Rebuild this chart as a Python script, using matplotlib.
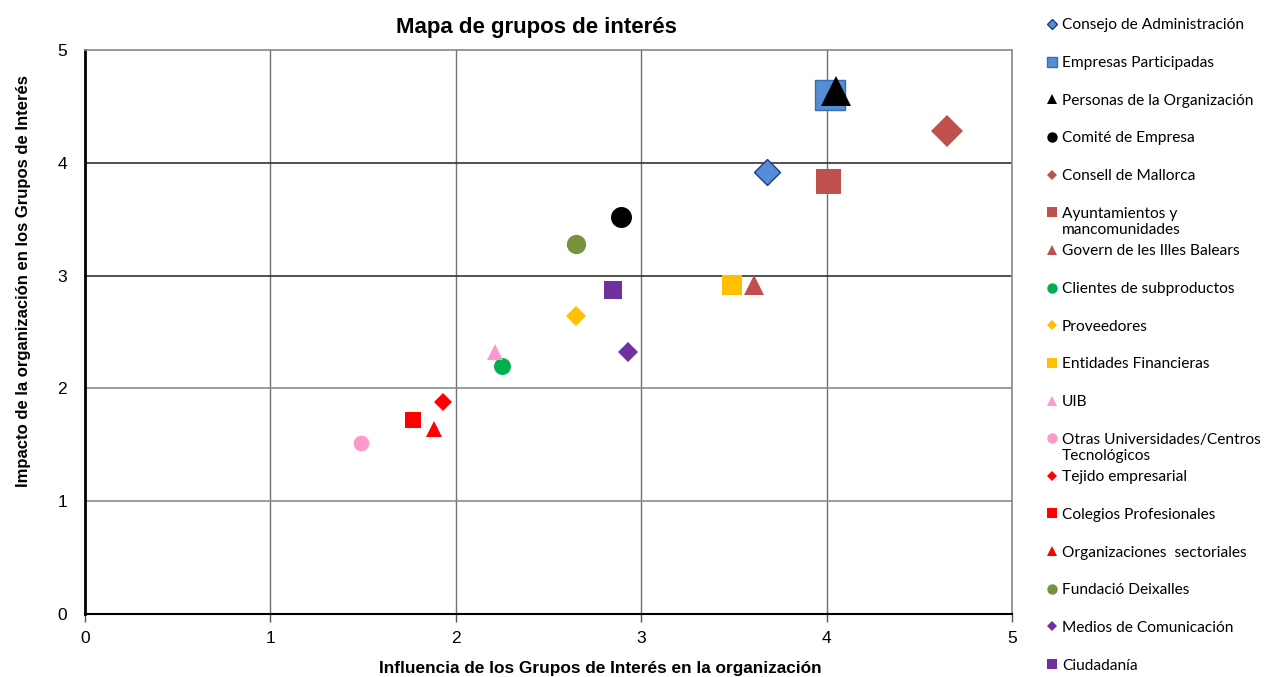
import matplotlib
matplotlib.use('Agg')
import matplotlib.pyplot as plt
from matplotlib.lines import Line2D

# series in legend order
names = ['Consejo de Administración', 'Empresas Participadas', 'Personas de la Organización',
         'Comité de Empresa', 'Consell de Mallorca', 'Ayuntamientos y\nmancomunidades',
         'Govern de les Illes Balears', 'Clientes de subproductos', 'Proveedores',
         'Entidades Financieras', 'UIB', 'Otras Universidades/Centros\nTecnológicos',
         'Tejido empresarial', 'Colegios Profesionales', 'Organizaciones  sectoriales',
         'Fundació Deixalles', 'Medios de Comunicación', 'Ciudadanía']
influencia = [3.68, 4.02, 4.05, 2.89, 4.65, 4.01, 3.61, 2.25, 2.65,
              3.49, 2.21, 1.49, 1.93, 1.77, 1.88, 2.65, 2.93, 2.85]
impacto = [3.92, 4.60, 4.64, 3.52, 4.28, 3.84, 2.92, 2.20, 2.64,
           2.92, 2.32, 1.52, 1.88, 1.72, 1.64, 3.28, 2.32, 2.87]

markers = ['D', 's', '^', 'o', 'D', 's', '^', 'o', 'D', 's', '^', 'o', 'D', 's', '^', 'o', 'D', 's']
colors = ['#558ED5', '#558ED5', '#000000', '#000000', '#C0504D', '#C0504D', '#C0504D',
          '#00B050', '#FFC000', '#FFC000', '#FF99CC', '#FF99CC', '#FF0000', '#FF0000',
          '#FF0000', '#77933C', '#7030A0', '#7030A0']
edges = ['#1F3A93', '#3A6DB0'] + [None] * 16
sizes = [13.2, 20.9, 21.5, 15.1, 16.6, 18.0, 15.0, 12.2, 9.8,
         13.7, 11.5, 11.3, 9.2, 11.3, 12.0, 13.9, 9.7, 13.4]

fig = plt.figure(figsize=(12.7, 6.77), dpi=100)
ax = fig.add_axes([85 / 1270, 1 - 614 / 677, 927 / 1270, 564 / 677])

ax.set_xlim(0, 5)
ax.set_ylim(0, 5)

for xv in [1, 2, 3, 4]:
    ax.axvline(xv, color='#707070', lw=1, zorder=1)
for yv, c in [(1, '#8c8c8c'), (2, '#8c8c8c'), (3, '#333333'), (4, '#333333')]:
    ax.axhline(yv, color=c, lw=1.2, zorder=1)

for i, n in enumerate(names):
    ax.plot(influencia[i], impacto[i], linestyle='none', marker=markers[i],
            markersize=sizes[i], color=colors[i],
            markeredgecolor=edges[i] if edges[i] else colors[i],
            markeredgewidth=1.0 if edges[i] else 0, zorder=3)

for s in ['top', 'right']:
    ax.spines[s].set_color('#888888')
    ax.spines[s].set_linewidth(1.2)
ax.spines['left'].set_linewidth(2)
ax.spines['bottom'].set_linewidth(1.5)

ax.set_xticks([0, 1, 2, 3, 4, 5])
ax.set_yticks([0, 1, 2, 3, 4, 5])
ax.tick_params(axis='x', length=6, width=1, color='#555555', direction='out',
               labelsize=12.5, pad=6)
ax.tick_params(axis='y', length=0, labelsize=12.5, pad=13)
for lab in ax.get_xticklabels() + ax.get_yticklabels():
    lab.set_fontfamily('Liberation Sans')

ax.set_xlabel('Influencia de los Grupos de Interés en la organización',
              fontsize=12.4, fontweight='bold', family='Liberation Sans')
ax.xaxis.set_label_coords(0.556, -0.083)
ax.set_ylabel('Impacto de la organización en los Grupos de Interés',
              fontsize=12, fontweight='bold', family='Liberation Sans')
ax.yaxis.set_label_coords(-0.058, 0.59)

fig.text(536 / 1270, 1 - 27 / 677, 'Mapa de grupos de interés', ha='center', va='center',
         fontsize=16, fontweight='bold', family='Liberation Sans')

# legend drawn by hand to keep Excel's fixed row spacing
leg_ax = fig.add_axes([0, 0, 1, 1], facecolor='none')
leg_ax.set_xlim(0, 1270)
leg_ax.set_ylim(677, 0)
leg_ax.axis('off')
for i, n in enumerate(names):
    yp = 24 + i * 37.65
    leg_ax.add_line(Line2D([1052], [yp], marker=markers[i], linestyle='none',
                           markersize=7.5 if markers[i] != 'D' else 5.5, color=colors[i],
                           markeredgecolor=edges[i] if edges[i] else colors[i],
                           markeredgewidth=1.0 if edges[i] else 0))
    leg_ax.text(1062, yp - 5.5, n, ha='left', va='top', fontsize=11.2,
                family='Lato', linespacing=1.25)

fig.savefig('out.png', dpi=100)
